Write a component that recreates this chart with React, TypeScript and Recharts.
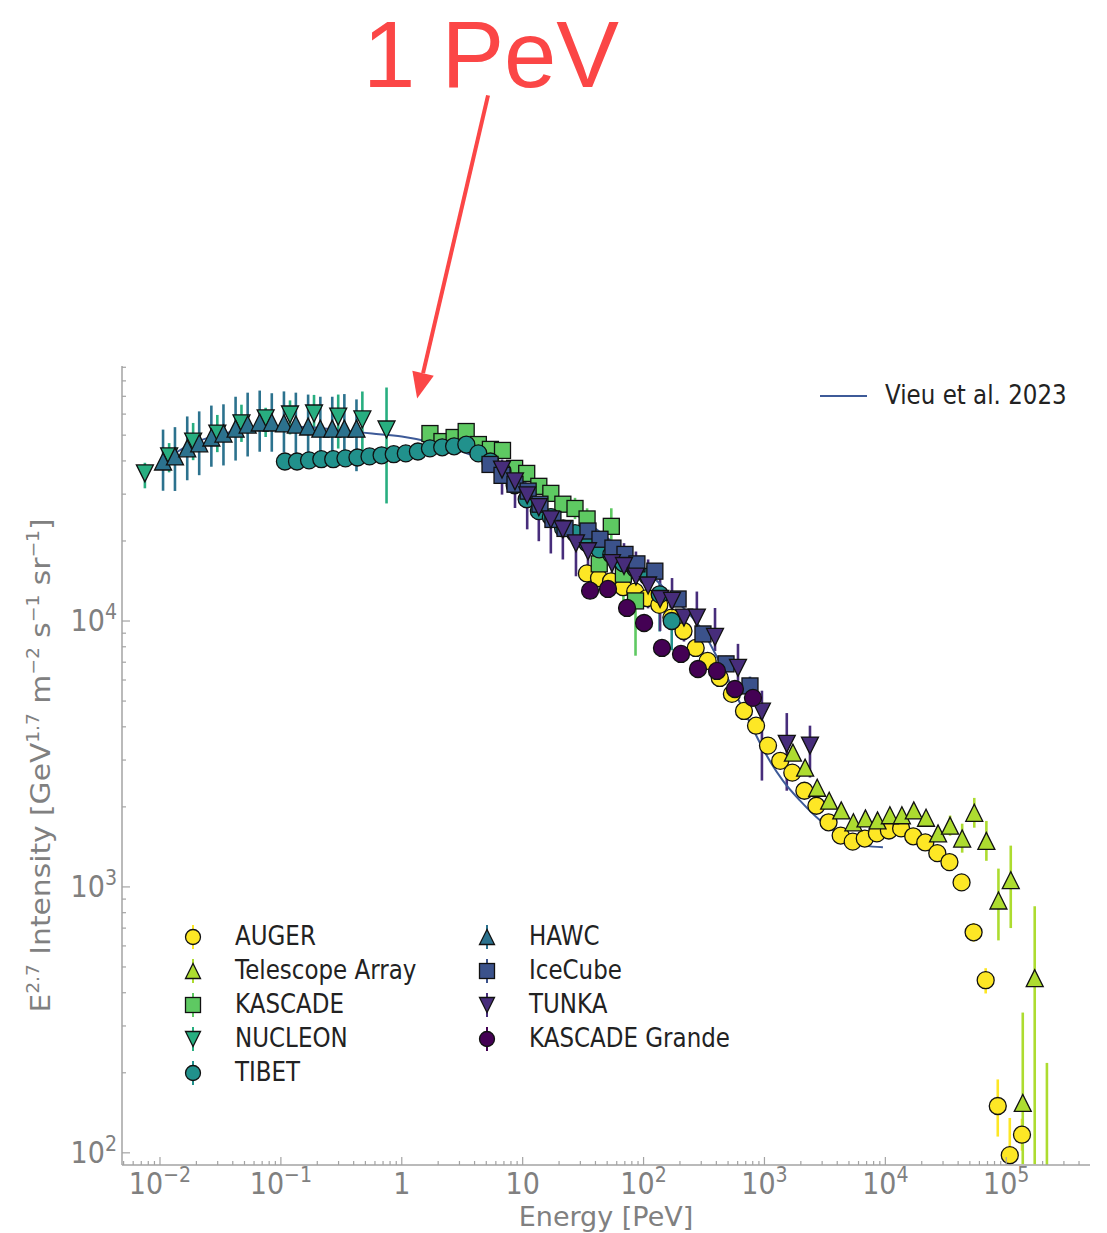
import React from 'react'
import { ComposedChart, Scatter, Line, XAxis, YAxis, ErrorBar, ReferenceLine, Legend } from 'recharts'

// Energy in PeV, intensity E^2.7 dN/dE in GeV^1.7 m^-2 s^-1 sr^-1, errors as [down, up] in dex

const augerE = [34.0, 42.8, 53.8, 67.8, 85.3, 107, 135, 170, 214, 270, 339, 427, 538, 677, 852, 1070, 1350, 1700, 2140, 2690, 3390, 4270, 5370, 6760, 8510, 10700, 13500, 17000, 21400, 26900, 33900, 42700, 53700, 67600, 85100, 107000, 135000]
const augerI = [15100, 14500, 14100, 13400, 12900, 12200, 11500, 10300, 9170, 7920, 7080, 6110, 5320, 4590, 4040, 3400, 2980, 2690, 2300, 2020, 1750, 1560, 1480, 1520, 1590, 1630, 1660, 1550, 1470, 1340, 1240, 1040, 675, 446, 150, 98, 117]
const augerErr: [number, number][] = [
  [0.01, 0.01], [0.01, 0.01], [0.01, 0.01], [0.01, 0.01], [0.01, 0.01], [0.01, 0.01], [0.01, 0.01], [0.01, 0.01], [0.01, 0.01], [0.01, 0.01],
  [0.01, 0.01], [0.01, 0.01], [0.01, 0.01], [0.01, 0.01], [0.01, 0.01], [0.01, 0.01], [0.01, 0.01], [0.01, 0.01], [0.01, 0.01], [0.01, 0.01],
  [0.01, 0.01], [0.01, 0.01], [0.01, 0.01], [0.01, 0.01], [0.01, 0.01], [0.01, 0.01], [0.01, 0.01], [0.015, 0.015], [0.015, 0.015], [0.02, 0.02],
  [0.02, 0.02], [0.025, 0.025], [0.035, 0.035], [0.05, 0.045], [0.115, 0.1], [0.03, 0.14], [0.06, 0.06],
]

const taE = [1720, 2170, 2730, 3430, 4320, 5440, 6850, 8620, 10900, 13700, 17200, 21700, 27300, 34300, 43200, 54400, 68500, 86200, 109000, 137000, 172000, 217000]
const taI = [3200, 2810, 2360, 2110, 1940, 1750, 1810, 1780, 1860, 1860, 1940, 1820, 1590, 1700, 1520, 1900, 1490, 889, 1060, 154, 454, 60]
const taErr: [number, number][] = [
  [0.02, 0.02], [0.02, 0.02], [0.02, 0.02], [0.02, 0.02], [0.02, 0.02], [0.02, 0.02], [0.02, 0.02], [0.02, 0.02], [0.02, 0.02], [0.02, 0.02],
  [0.02, 0.02], [0.02, 0.02], [0.02, 0.02], [0.038, 0.038], [0.053, 0.056], [0.056, 0.056], [0.075, 0.075], [0.15, 0.12], [0.18, 0.13], [0.23, 0.34],
  [0.7, 0.27], [0.3, 0.56],
]

const kascadeE = [1.71, 2.15, 2.71, 3.41, 4.30, 5.41, 6.81, 8.58, 10.8, 13.6, 17.1, 21.5, 27.1, 34.1, 43.0, 54.1, 68.1, 85.8]
const kascadeI = [50700, 47300, 49000, 51600, 46100, 44200, 43800, 37500, 35900, 32100, 30200, 27500, 26500, 24200, 16400, 22700, 15000, 11900]
const kascadeErr: [number, number][] = [
  [0.02, 0.02], [0.02, 0.02], [0.02, 0.02], [0.02, 0.02], [0.02, 0.02], [0.02, 0.02], [0.02, 0.02], [0.02, 0.02], [0.02, 0.02], [0.02, 0.02],
  [0.02, 0.02], [0.02, 0.02], [0.04, 0.04], [0.04, 0.04], [0.06, 0.06], [0.068, 0.068], [0.1, 0.04], [0.206, 0.094],
]

const nucleonE = [0.0075, 0.0119, 0.0188, 0.0298, 0.0472, 0.0748, 0.119, 0.188, 0.298, 0.472, 0.748]
const nucleonI = [35900, 41600, 47300, 50700, 55400, 57800, 59800, 60300, 58700, 57300, 52500]
const nucleonErr: [number, number][] = [
  [0.056, 0.04], [0.06, 0.05], [0.07, 0.07], [0.07, 0.07], [0.07, 0.07], [0.07, 0.04], [0.075, 0.053], [0.06, 0.07], [0.12, 0.083], [0.165, 0.105],
  [0.278, 0.158],
]

const tibetE = [0.108, 0.136, 0.171, 0.216, 0.271, 0.342, 0.430, 0.541, 0.681, 0.858, 1.08, 1.36, 1.71, 2.16, 2.71, 3.42, 4.30, 5.41, 6.81, 8.58, 10.8, 13.6, 17.1, 21.6, 27.1, 34.2, 43.0, 54.1, 68.1, 85.8, 108, 136, 171]
const tibetI = [39800, 39800, 40200, 40600, 40600, 40900, 41200, 41600, 42000, 42400, 42700, 43400, 44600, 45000, 45400, 46100, 42700, 39800, 36600, 32400, 28700, 25900, 24600, 22300, 21400, 19600, 18600, 17800, 16500, 15700, 14700, 12600, 10000]
const tibetErr: [number, number][] = [
  [0.01, 0.01], [0.01, 0.01], [0.01, 0.01], [0.01, 0.01], [0.01, 0.01], [0.01, 0.01], [0.01, 0.01], [0.01, 0.01], [0.01, 0.01], [0.01, 0.01],
  [0.01, 0.01], [0.01, 0.01], [0.01, 0.01], [0.01, 0.01], [0.01, 0.01], [0.01, 0.01], [0.01, 0.01], [0.01, 0.01], [0.01, 0.01], [0.01, 0.01],
  [0.01, 0.01], [0.01, 0.01], [0.01, 0.01], [0.01, 0.01], [0.01, 0.01], [0.01, 0.01], [0.01, 0.01], [0.01, 0.01], [0.01, 0.01], [0.01, 0.01],
  [0.05, 0.04], [0.14, 0.05], [0.11, 0.04],
]

const hawcE = [0.0106, 0.0133, 0.0168, 0.0211, 0.0266, 0.0335, 0.0422, 0.0531, 0.0668, 0.0841, 0.106, 0.133, 0.168, 0.212, 0.266, 0.335, 0.422]
const hawcI = [39800, 41600, 44600, 46600, 49000, 50700, 52900, 54800, 55800, 55800, 55400, 54800, 53900, 52900, 52900, 52900, 52900]
const hawcErr: [number, number][] = [
  [0.11, 0.12], [0.13, 0.11], [0.12, 0.12], [0.12, 0.12], [0.11, 0.12], [0.12, 0.11], [0.12, 0.12], [0.12, 0.12], [0.11, 0.12], [0.11, 0.11],
  [0.11, 0.12], [0.12, 0.12], [0.12, 0.12], [0.13, 0.12], [0.13, 0.12], [0.14, 0.13], [0.16, 0.11],
]

const icecubeE = [5.37, 6.75, 8.64, 11.1, 13.9, 17.8, 22.4, 34.7, 43.6, 55.8, 70.2, 88.1, 124, 193, 310, 481, 759]
const icecubeI = [38800, 35300, 32700, 30800, 27500, 24100, 22300, 21800, 20300, 18800, 17800, 16400, 15400, 12100, 8940, 6900, 5700]
const icecubeErr: [number, number][] = [
  [0.02, 0.02], [0.02, 0.02], [0.02, 0.02], [0.02, 0.02], [0.02, 0.02], [0.02, 0.02], [0.02, 0.02], [0.02, 0.02], [0.02, 0.02], [0.02, 0.02],
  [0.02, 0.02], [0.02, 0.02], [0.025, 0.025], [0.025, 0.025], [0.03, 0.03], [0.03, 0.03], [0.035, 0.035],
]

const tunkaE = [6.75, 8.64, 10.9, 13.6, 17.1, 21.5, 27.6, 34.7, 54.8, 68.9, 86.5, 109, 137, 172, 216, 276, 390, 604, 953, 1530, 2380]
const tunkaI = [37100, 33500, 29700, 26800, 24100, 22100, 19600, 18300, 16500, 16100, 14700, 13600, 12100, 11900, 10300, 10300, 8710, 6670, 4560, 3450, 3400]
const tunkaErr: [number, number][] = [
  [0.094, 0.038], [0.1, 0.03], [0.128, 0.026], [0.128, 0.023], [0.128, 0.02], [0.113, 0.02], [0.124, 0.045], [0.075, 0.038], [0.094, 0.071], [0.068, 0.086],
  [0.083, 0.094], [0.086, 0.098], [0.12, 0.079], [0.056, 0.086], [0.09, 0.03], [0.064, 0.098], [0.053, 0.109], [0.049, 0.09], [0.259, 0.079], [0.176, 0.116],
  [0.12, 0.075],
]

const kgE = [36.1, 50.8, 73.0, 101, 142, 204, 282, 405, 570, 803]
const kgI = [13000, 13200, 11200, 9830, 7920, 7520, 6600, 6490, 5550, 5140]
const kgErr: [number, number][] = [
  [0.025, 0.025], [0.025, 0.025], [0.025, 0.025], [0.025, 0.025], [0.025, 0.025], [0.025, 0.025], [0.025, 0.025], [0.025, 0.025], [0.025, 0.025], [0.025, 0.025],
]

// model curve
const vieuE = [0.01, 0.0177, 0.0313, 0.0566, 0.1, 0.177, 0.314, 0.567, 1.0, 1.78, 3.15, 5.68, 10, 17.8, 31.6, 56.9, 100, 178, 316, 429, 570, 759, 1010, 1420, 1970, 2880, 4460, 6780, 9550]
const vieuI = [39200, 46100, 50300, 53000, 53900, 53500, 52100, 50700, 49400, 46900, 43400, 38800, 33500, 28700, 24100, 19600, 15800, 12200, 9020, 6950, 5370, 4140, 3200, 2510, 2110, 1780, 1550, 1430, 1410]

// axis ticks
const xMajorTicks = [0.01, 0.1, 1, 10, 100, 1000, 10000, 100000]
const xMinorTicks = [
  0.005, 0.006, 0.007, 0.008, 0.009,
  0.02, 0.03, 0.04, 0.05, 0.06, 0.07, 0.08, 0.09,
  0.2, 0.3, 0.4, 0.5, 0.6, 0.7, 0.8, 0.9,
  2, 3, 4, 5, 6, 7, 8, 9,
  20, 30, 40, 50, 60, 70, 80, 90,
  200, 300, 400, 500, 600, 700, 800, 900,
  2000, 3000, 4000, 5000, 6000, 7000, 8000, 9000,
  20000, 30000, 40000, 50000, 60000, 70000, 80000, 90000,
  200000, 300000, 400000,
]
const yMajorTicks = [100, 1000, 10000]
const yMinorTicks = [
  200, 300, 400, 500, 600, 700, 800, 900,
  2000, 3000, 4000, 5000, 6000, 7000, 8000, 9000,
  20000, 30000, 40000, 50000, 60000, 70000, 80000, 90000,
]

type Kind = 'circle' | 'square' | 'up' | 'down'

interface Series {
  name: string
  color: string
  kind: Kind
  E: number[]
  I: number[]
  err: [number, number][]
}

const series: Series[] = [
  { name: 'AUGER', color: '#fde725', kind: 'circle', E: augerE, I: augerI, err: augerErr },
  { name: 'Telescope Array', color: '#addc30', kind: 'up', E: taE, I: taI, err: taErr },
  { name: 'KASCADE', color: '#5ec962', kind: 'square', E: kascadeE, I: kascadeI, err: kascadeErr },
  { name: 'NUCLEON', color: '#28ae80', kind: 'down', E: nucleonE, I: nucleonI, err: nucleonErr },
  { name: 'TIBET', color: '#21918c', kind: 'circle', E: tibetE, I: tibetI, err: tibetErr },
  { name: 'HAWC', color: '#2c728e', kind: 'up', E: hawcE, I: hawcI, err: hawcErr },
  { name: 'IceCube', color: '#3b528b', kind: 'square', E: icecubeE, I: icecubeI, err: icecubeErr },
  { name: 'TUNKA', color: '#472d7b', kind: 'down', E: tunkaE, I: tunkaI, err: tunkaErr },
  { name: 'KASCADE Grande', color: '#440154', kind: 'circle', E: kgE, I: kgI, err: kgErr },
]

const VIEU_COLOR = '#3d5a98'
const SPINE = '#a3a3a3'
const LABEL_GRAY = '#808080'
const RED = '#fb4646'
const FONT = 'DejaVu Sans, Verdana, sans-serif'
const STRETCH = 1.12 // glyphs in this figure are drawn a little tall

// plot rectangle used to clip error bars that run past the axes
const PLOT = { left: 122, top: 366, width: 968, height: 799 }

// error bars in dex -> absolute offsets below / above the value
const toRows = (s: Series) =>
  s.E.map((x, i) => {
    const y = s.I[i]
    const [d, u] = s.err[i]
    return { x, y, err: [y - y / Math.pow(10, d), y * Math.pow(10, u) - y] }
  })

const vieuRows = vieuE.map((x, i) => ({ x, y: vieuI[i] }))

function MarkerGlyph({ cx, cy, kind, fill, size }: { cx: number; cy: number; kind: Kind; fill: string; size: number }) {
  const r = size / 2
  const common = { fill, stroke: '#111', strokeWidth: 1.3 }
  if (kind === 'circle') return <circle cx={cx} cy={cy} r={r} {...common} />
  if (kind === 'square') return <rect x={cx - r} y={cy - r} width={size} height={size} {...common} />
  if (kind === 'up') return <polygon points={`${cx},${cy - r} ${cx - r},${cy + r} ${cx + r},${cy + r}`} {...common} />
  return <polygon points={`${cx},${cy + r} ${cx - r},${cy - r} ${cx + r},${cy - r}`} {...common} />
}

const markerSize: Record<Kind, number> = { circle: 17, square: 16, up: 17, down: 17 }

const isMajor = (v: number) => Math.abs(Math.log10(v) - Math.round(Math.log10(v))) < 1e-6

function expLabel(v: number, x: number, y: number, anchor: 'middle' | 'end') {
  const p = Math.round(Math.log10(v))
  const exp = p < 0 ? `\u2212${-p}` : `${p}`
  return (
    <text
      transform={`translate(${x},${y}) scale(1,${STRETCH})`}
      textAnchor={anchor}
      fontFamily={FONT}
      fontSize={27}
      fill={LABEL_GRAY}
    >
      {p === 0 ? '1' : '10'}
      {p !== 0 && p !== 1 && (
        <tspan dy={-11} fontSize={19}>
          {exp}
        </tspan>
      )}
    </text>
  )
}

const XTick = (props: any) => {
  const { x, y, payload } = props
  const major = isMajor(payload.value)
  return (
    <g>
      <line x1={x} x2={x} y1={y} y2={y - (major ? 8 : 4)} stroke={SPINE} strokeWidth={1.2} />
      {major && expLabel(payload.value, x, y + 29, 'middle')}
    </g>
  )
}

const YTick = (props: any) => {
  const { x, y, payload } = props
  const major = isMajor(payload.value)
  return (
    <g>
      <line x1={x} x2={x + (major ? 8 : 4)} y1={y} y2={y} stroke={SPINE} strokeWidth={1.2} />
      {major && expLabel(payload.value, x - 5, y + 10, 'end')}
    </g>
  )
}

const XTitle = (props: any) => {
  const { viewBox } = props
  return (
    <text x={viewBox.x + viewBox.width / 2} y={viewBox.y + 61} textAnchor="middle" fontFamily={FONT} fontSize={27} fill={LABEL_GRAY}>
      Energy [PeV]
    </text>
  )
}

const YTitle = (props: any) => {
  const { viewBox } = props
  const cx = viewBox.x - 12
  const cy = viewBox.y + viewBox.height / 2
  return (
    <text
      transform={`translate(${cx},${cy}) rotate(-90) scale(1.1,1)`}
      textAnchor="middle"
      fontFamily={FONT}
      fontSize={27}
      fill={LABEL_GRAY}
    >
      E<tspan dy={-11} fontSize={17}>2.7</tspan>
      <tspan dy={11}> Intensity [GeV</tspan>
      <tspan dy={-11} fontSize={17}>1.7</tspan>
      <tspan dy={11}> m</tspan>
      <tspan dy={-11} fontSize={17}>{'\u22122'}</tspan>
      <tspan dy={11}> s</tspan>
      <tspan dy={-11} fontSize={17}>{'\u22121'}</tspan>
      <tspan dy={11}> sr</tspan>
      <tspan dy={-11} fontSize={17}>{'\u22121'}</tspan>
      <tspan dy={11}>]</tspan>
    </text>
  )
}

// arrow from the label down to the knee region
const PeVArrow = (props: any) => {
  const { x1, y1, x2, y2 } = props
  const dx = x2 - x1
  const dy = y2 - y1
  const len = Math.hypot(dx, dy)
  const ux = dx / len
  const uy = dy / len
  const head = 26
  const half = 11
  const bx = x2 - ux * head
  const by = y2 - uy * head
  return (
    <g>
      <text x={x1 + 3} y={y1 - 8} textAnchor="middle" fontFamily="Liberation Sans, Arial, sans-serif" fontSize={94} fill={RED}>
        1 PeV
      </text>
      <line x1={x1} y1={y1} x2={bx} y2={by} stroke={RED} strokeWidth={4} />
      <polygon points={`${x2},${y2} ${bx - uy * half},${by + ux * half} ${bx + uy * half},${by - ux * half}`} fill={RED} />
    </g>
  )
}

const renderLegend = () => (
  <svg width={1107} height={1233} style={{ position: 'absolute', left: 0, top: 0 }}>
    <line x1={820} x2={867} y1={396} y2={396} stroke={VIEU_COLOR} strokeWidth={2} />
    <text transform={`translate(885,404) scale(1,${STRETCH})`} fontFamily={FONT} fontSize={23} fill="#222">
      Vieu et al. 2023
    </text>
    {series.map((s, i) => {
      const col = i < 5 ? 0 : 1
      const row = i < 5 ? i : i - 5
      const mx = col === 0 ? 193 : 487
      const my = 937 + row * 34
      return (
        <g key={s.name}>
          <line x1={mx} x2={mx} y1={my - 12} y2={my + 12} stroke={s.color} strokeWidth={2} />
          <MarkerGlyph cx={mx} cy={my} kind={s.kind} fill={s.color} size={15} />
          <text transform={`translate(${mx + 42},${my + 8}) scale(1,${STRETCH})`} fontFamily={FONT} fontSize={23} fill="#222">
            {s.name}
          </text>
        </g>
      )
    })}
  </svg>
)

export default function App() {
  return (
    <div style={{ position: 'absolute', left: 0, top: 0, width: 1107, height: 1233, background: '#fff' }}>
      <style>{'.recharts-errorBar { clip-path: url(#plot-area); }'}</style>
      <svg width={0} height={0} style={{ position: 'absolute' }}>
        <defs>
          <clipPath id="plot-area" clipPathUnits="userSpaceOnUse">
            <rect x={PLOT.left} y={PLOT.top} width={PLOT.width} height={PLOT.height} />
          </clipPath>
        </defs>
      </svg>
      <ComposedChart width={1107} height={1233} margin={{ top: 366, right: 17, bottom: 8, left: 62 }}>
        <XAxis
          type="number"
          dataKey="x"
          scale="log"
          domain={[0.00485, 493000]}
          allowDataOverflow
          ticks={[...xMajorTicks, ...xMinorTicks].sort((a, b) => a - b)}
          interval={0}
          tick={<XTick />}
          tickLine={false}
          tickSize={0}
          tickMargin={0}
          axisLine={{ stroke: SPINE, strokeWidth: 1.5 }}
          height={60}
          label={{ content: <XTitle /> }}
        />
        <YAxis
          type="number"
          dataKey="y"
          scale="log"
          domain={[90, 91000]}
          allowDataOverflow
          ticks={[...yMajorTicks, ...yMinorTicks].sort((a, b) => a - b)}
          interval={0}
          tick={<YTick />}
          tickLine={false}
          tickSize={0}
          tickMargin={0}
          axisLine={{ stroke: SPINE, strokeWidth: 1.5 }}
          width={60}
          label={{ content: <YTitle /> }}
        />
        {series.map((s) => (
          <Scatter
            key={s.name}
            name={s.name}
            data={toRows(s)}
            fill={s.color}
            isAnimationActive={false}
            shape={(p: any) =>
              p.cx == null || p.cy == null ? <g /> : <MarkerGlyph cx={p.cx} cy={p.cy} kind={s.kind} fill={s.color} size={markerSize[s.kind]} />
            }
          >
            <ErrorBar dataKey="err" direction="y" width={0} stroke={s.color} strokeWidth={2.6} />
          </Scatter>
        ))}
        <Line
          data={vieuRows}
          dataKey="y"
          type="monotone"
          stroke={VIEU_COLOR}
          strokeWidth={2}
          dot={false}
          activeDot={false}
          isAnimationActive={false}
        />
        <ReferenceLine
          segment={[
            { x: 5.17, y: 948000 },
            { x: 1.34, y: 68700 },
          ]}
          ifOverflow="visible"
          shape={<PeVArrow />}
        />
        <Legend
          content={renderLegend}
          layout="horizontal"
          verticalAlign="middle"
          align="center"
          wrapperStyle={{ left: 0, top: 0, width: 1107, height: 1233, pointerEvents: 'none' }}
        />
      </ComposedChart>
    </div>
  )
}
